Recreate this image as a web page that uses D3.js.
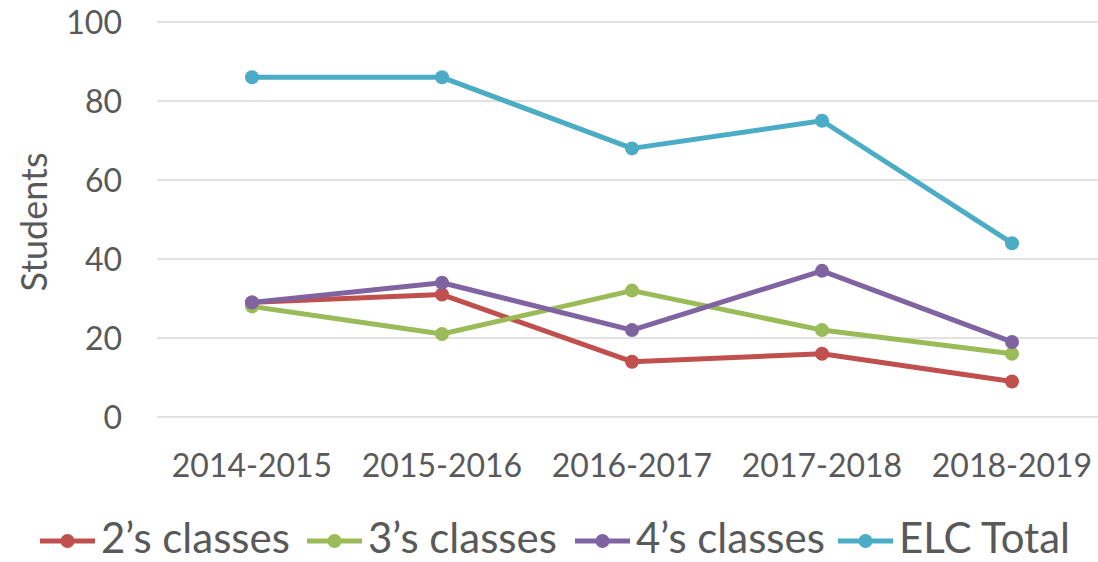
<!DOCTYPE html>
<html><head><meta charset="utf-8">
<script src="https://cdn.jsdelivr.net/npm/d3@7"></script>
<style>html,body{margin:0;padding:0;background:#fff;}svg{display:block;}</style>
</head><body>
<svg id="c" width="1098" height="562"></svg>
<script>
const categories = ["2014-2015","2015-2016","2016-2017","2017-2018","2018-2019"];
const seriesNames = ["2\u2019s classes","3\u2019s classes","4\u2019s classes","ELC Total"];
const twos = [29, 31, 14, 16, 9];
const threes = [28, 21, 32, 22, 16];
const fours = [29, 34, 22, 37, 19];
const elcTotal = [86, 86, 68, 75, 44];
const yTicks = [0, 20, 40, 60, 80, 100];
const colors = ["#C0504D","#9BBB59","#8064A2","#4BACC6"];

const series = [twos, threes, fours, elcTotal].map((v,i)=>({name:seriesNames[i], values:v, color:colors[i]}));

const font = "Lato, 'Open Sans', sans-serif";
const textColor = "#595959";
const svg = d3.select("#c");

const x = d3.scaleBand().domain(categories).range([157, 1107]);
const y = d3.scaleLinear().domain([0, 100]).range([417, 22]);

// gridlines
svg.append("g").selectAll("line").data(yTicks).join("line")
  .attr("x1", 157).attr("x2", 1098)
  .attr("y1", d=>y(d)).attr("y2", d=>y(d))
  .attr("stroke", "#D9D9D9").attr("stroke-width", 1.5);

// y axis labels
const yAxis = svg.append("g").attr("transform","translate(122,0)")
  .call(d3.axisLeft(y).tickValues(yTicks).tickSize(0).tickPadding(0));
yAxis.select(".domain").remove();
yAxis.selectAll("text").attr("font-family", font).attr("font-size", 32).attr("fill", textColor).attr("dy","0.35em");

// x axis labels
const xAxis = svg.append("g").attr("transform","translate(0,417)")
  .call(d3.axisBottom(x).tickSize(0).tickPadding(0));
xAxis.select(".domain").remove();
xAxis.selectAll("text").attr("font-family", font).attr("font-size", 32).attr("fill", textColor).attr("dy", null).attr("y", 60);

// y title
svg.append("text").attr("transform","translate(47,222) rotate(-90)")
  .attr("text-anchor","middle").attr("font-family", font).attr("font-size", 36)
  .attr("fill", textColor).text("Students");

const cx = d => x(d) + x.bandwidth()/2;
const line = d3.line().x((d,i)=>cx(categories[i])).y(d=>y(d));

const g = svg.append("g");
series.forEach(s=>{
  g.append("path").attr("d", line(s.values)).attr("fill","none")
    .attr("stroke", s.color).attr("stroke-width", 5).attr("stroke-linejoin","round");
  g.selectAll(null).data(s.values).join("circle")
    .attr("cx",(d,i)=>cx(categories[i])).attr("cy", d=>y(d)).attr("r", 7).attr("fill", s.color);
});

// legend
const legendX = [40, 307, 575, 838];
const leg = svg.append("g");
series.forEach((s,i)=>{
  const lg = leg.append("g").attr("transform", `translate(${legendX[i]},541)`);
  lg.append("line").attr("x1",0).attr("x2",55).attr("y1",0).attr("y2",0)
    .attr("stroke", s.color).attr("stroke-width",5);
  lg.append("circle").attr("cx",27.5).attr("cy",0).attr("r",7).attr("fill",s.color);
  lg.append("text").attr("x",61).attr("y",12)
    .attr("font-family", font).attr("font-size", 42).attr("fill", textColor).text(s.name);
});
</script>
</body></html>
